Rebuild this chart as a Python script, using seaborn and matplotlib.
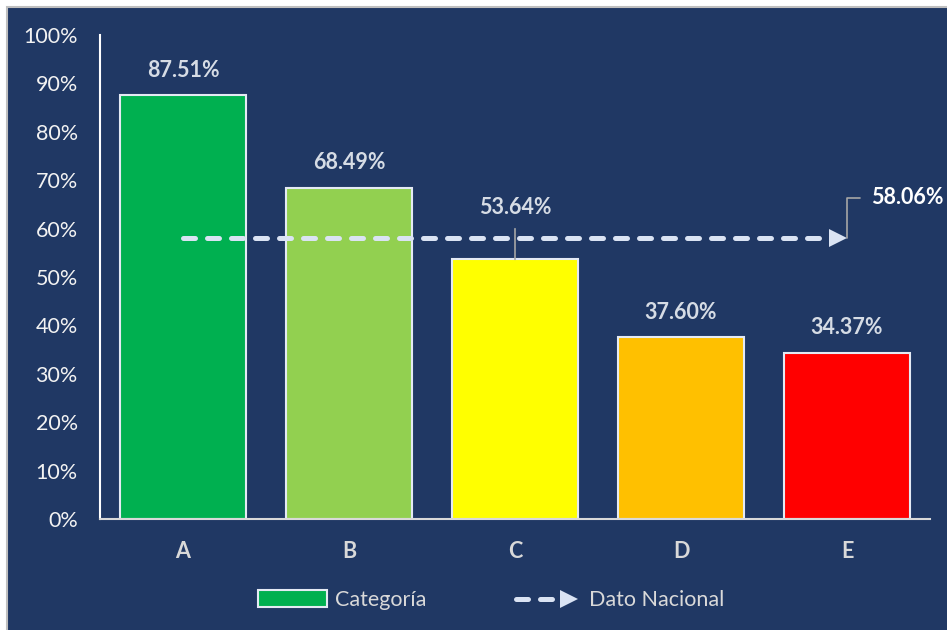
import matplotlib
matplotlib.use('Agg')
import matplotlib.pyplot as plt
import seaborn as sns
import pandas as pd
import numpy as np
from matplotlib.patches import Rectangle, Patch
from matplotlib.lines import Line2D
from matplotlib.legend_handler import HandlerBase

# ---- data ----
categories = ['A', 'B', 'C', 'D', 'E']
values = [87.51, 68.49, 53.64, 37.60, 34.37]
bar_colors = ['#00B050', '#92D050', '#FFFF00', '#FFC000', '#FF0000']
national_value = 58.06
yticks = list(range(0, 101, 10))
series_label = 'Categoría'
national_label = 'Dato Nacional'

# ---- style ----
sns.set_theme(style='white')
plt.rcParams['font.family'] = ['Lato', 'DejaVu Sans']

NAVY = '#203864'
LINE_C = '#DAE3F3'
LABEL_C = '#D6DCE5'
LEADER_C = '#A6A6A6'
FS = 15.5
FS_LAB = 15.5

fig = plt.figure(figsize=(9.47, 6.3), dpi=100, facecolor='white')
fig.patches.append(Rectangle((7 / 947, -0.01), 1.01, 1.01 - 7 / 630, transform=fig.transFigure,
                             facecolor=NAVY, edgecolor='#BFBFBF', linewidth=1.5, zorder=-10))
ax = fig.add_axes([100 / 947, 111 / 630, 830 / 947, 484 / 630])
ax.set_facecolor('none')

df = pd.DataFrame({'cat': categories, 'val': values})
sns.barplot(data=df, x='cat', y='val', hue='cat', palette=bar_colors, saturation=1,
            width=0.76, edgecolor='#E4EAF4', linewidth=1.5, legend=False, ax=ax, zorder=2)

# national dashed arrow line
x_idx = np.arange(len(categories))
ax.plot([x_idx[0], x_idx[-1] - 0.1], [national_value, national_value], color=LINE_C, lw=3.6,
        dashes=(2.4, 2.4), dash_capstyle='round', zorder=5)
ax.plot([x_idx[-1] - 0.054], [national_value], marker='>', ms=13, color=LINE_C,
        markeredgewidth=0, zorder=5)

# bar value labels
for i, v in enumerate(values):
    if abs(v - national_value) < 8:
        ax.annotate(f'{v:.2f}%', xy=(i, v), xytext=(0, 37), textcoords='offset points',
                    ha='center', va='center', fontsize=FS_LAB, fontweight='bold', color=LABEL_C,
                    arrowprops=dict(arrowstyle='-', color=LEADER_C, lw=1.2, shrinkA=5, shrinkB=0),
                    zorder=6)
    else:
        ax.annotate(f'{v:.2f}%', xy=(i, v), xytext=(0, 18), textcoords='offset points',
                    ha='center', va='center', fontsize=FS_LAB, fontweight='bold', color=LABEL_C)

# national value label
ax.annotate(f'{national_value:.2f}%', xy=(x_idx[-1], national_value), xytext=(17, 29),
            textcoords='offset points', ha='left', va='center', fontsize=FS_LAB,
            fontweight='bold', color='white',
            arrowprops=dict(arrowstyle='-', color=LEADER_C, lw=1.2,
                            connectionstyle='angle,angleA=0,angleB=90,rad=0',
                            shrinkA=5, shrinkB=0), zorder=6)

# axes
ax.set_xlim(-0.5, len(categories) - 0.5)
ax.set_ylim(0, 100)
ax.set_yticks(yticks)
ax.set_yticklabels([f'{t}%' for t in yticks])
ax.set_xlabel('')
ax.set_ylabel('')
ax.tick_params(axis='y', length=0, pad=16, labelsize=FS, labelcolor='#F2F2F2')
ax.tick_params(axis='x', length=0, pad=16, labelsize=FS, labelcolor='#D9D9D9')
for lab in ax.get_xticklabels():
    lab.set_fontweight('bold')
for s in ['top', 'right']:
    ax.spines[s].set_visible(False)
ax.spines['left'].set_color('white')
ax.spines['left'].set_linewidth(1.5)
ax.spines['bottom'].set_color('#D9D9D9')
ax.spines['bottom'].set_linewidth(1.5)
ax.spines['bottom'].set_zorder(3)
ax.grid(False)


# legend
class DashArrowHandler(HandlerBase):
    def create_artists(self, legend, orig_handle, xdescent, ydescent, width, height,
                       fontsize, trans):
        y = -ydescent + height / 2
        x0 = -xdescent
        ms_px = 13
        line = Line2D([x0 + 3, x0 + width - 16], [y, y], color=LINE_C, lw=3.6,
                      dashes=(2.4, 2.4), dash_capstyle='round', transform=trans)
        head = Line2D([x0 + width - 9], [y], marker='>', ms=ms_px, color=LINE_C,
                      markeredgewidth=0, linestyle='none', transform=trans)
        return [line, head]


bar_handle = Patch(facecolor=bar_colors[0], edgecolor='#E4EAF4', linewidth=1.5)
line_handle = Line2D([], [])
fig.legend([bar_handle, line_handle], [series_label, national_label],
           handler_map={Line2D: DashArrowHandler()},
           loc='center', bbox_to_anchor=(491 / 947, 30 / 630), ncol=2, frameon=False,
           fontsize=FS, labelcolor='#D9D9D9', handlelength=3.2, handleheight=0.85,
           handletextpad=0.35, columnspacing=4.0)

fig.savefig('out.png', dpi=100, facecolor='white')
